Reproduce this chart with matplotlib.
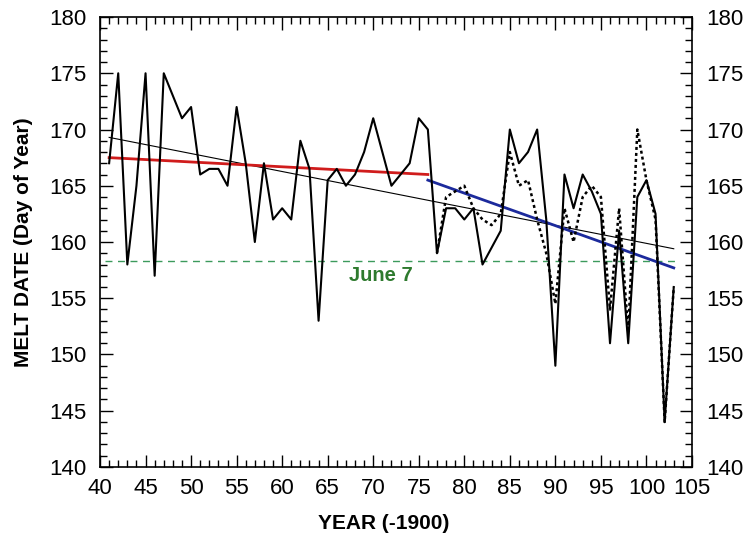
import matplotlib
matplotlib.use('Agg')
import matplotlib.pyplot as plt
from matplotlib.ticker import MultipleLocator

plt.rcParams['font.family'] = ['Liberation Sans', 'DejaVu Sans']

# melt date, solid series (1941-2003)
years = list(range(41, 104))
melt = [167, 175, 158, 165, 175, 157, 175, 173, 171, 172,
        166, 166.5, 166.5, 165, 172, 167, 160, 167, 162, 163,
        162, 169, 166.5, 153, 165.5, 166.5, 165, 166, 168, 171,
        168, 165, 166, 167, 171, 170, 159, 163, 163, 162,
        163, 158, 159.5, 161, 170, 167, 168, 170, 162, 149,
        166, 163, 166, 164.5, 162.5, 151, 161, 151, 164, 165.5,
        162.5, 144, 156]

# dotted series (1977-2003)
years_dot = list(range(77, 104))
melt_dot = [159, 164, 164.5, 165, 163, 162, 161.5, 162.5, 168, 165,
            165.5, 162, 159, 154.5, 163, 160, 164, 165, 164, 154,
            163, 152, 170, 165.5, 162, 144, 156]

# trend lines (end points)
trend1_x = [41, 76]
trend1_y = [167.5, 166.0]
trend2_x = [76, 103]
trend2_y = [165.5, 157.7]
trend_all_x = [41, 103]
trend_all_y = [169.3, 159.4]

june7_x = [40.5, 103.5]
june7_y = [158.3, 158.3]

fig = plt.figure(figsize=(7.56, 5.42), dpi=100)
ax = fig.add_axes([0.1323, 0.1384, 0.783, 0.8302])

ax.plot(june7_x, june7_y, color='#3c9a5c', lw=1.0, ls=(0, (5, 4)))
ax.plot(trend_all_x, trend_all_y, color='black', lw=0.8)
ax.plot(trend1_x, trend1_y, color='#d01c1c', lw=2.0)
ax.plot(trend2_x, trend2_y, color='#1c2a9c', lw=2.0)
ax.plot(years_dot, melt_dot, color='black', lw=1.8, ls=(0, (1.2, 1.2)))
ax.plot(years, melt, color='black', lw=1.5)

ax.text(70.8, 157.9, 'June 7', color='#2e7a2e', fontsize=14.5, fontweight='bold',
        ha='center', va='top')

ax.set_xlim(40, 105)
ax.set_ylim(140, 180)
ax.xaxis.set_major_locator(MultipleLocator(5))
ax.xaxis.set_minor_locator(MultipleLocator(1))
ax.yaxis.set_major_locator(MultipleLocator(5))
ax.yaxis.set_minor_locator(MultipleLocator(1))
ax.tick_params(which='both', direction='in', top=True, right=True,
               labelright=True, labelsize=16, width=1.0)
ax.tick_params(which='major', length=9)
ax.tick_params(which='minor', length=5)
ax.tick_params(axis='y', pad=10)
ax.tick_params(axis='x', pad=8)
for s in ax.spines.values():
    s.set_linewidth(1.2)

ax.set_xlabel('YEAR (-1900)', fontsize=15, fontweight='bold')
ax.xaxis.set_label_coords(0.48, -0.105)
ax.set_ylabel('MELT DATE (Day of Year)', fontsize=15, fontweight='bold')
ax.yaxis.set_label_coords(-0.113, 0.5)

fig.savefig('out.png', dpi=100)
